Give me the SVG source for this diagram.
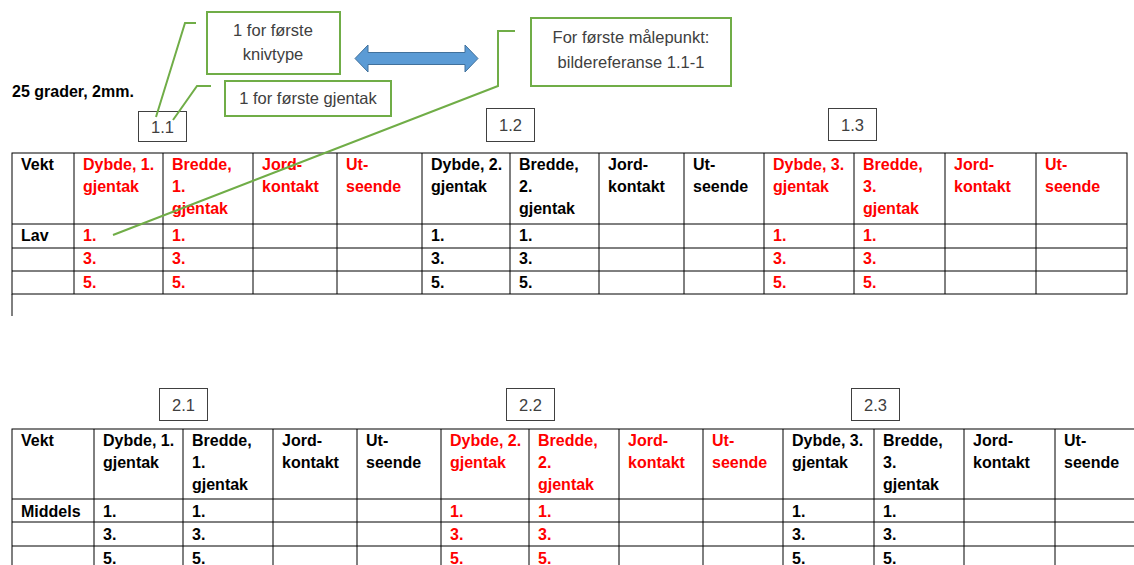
<svg xmlns="http://www.w3.org/2000/svg" width="1134" height="565" viewBox="0 0 1134 565">
<style>
  .grid { stroke: #000; stroke-width: 1; fill: none; }
  .t { font-family: "Liberation Sans", Arial, sans-serif; font-size: 16px; font-weight: bold; fill: #000; }
  .r { fill: #FF0000; }
  .cal { fill: #fff; stroke: #70AD47; stroke-width: 2; }
  .cline { fill: none; stroke: #70AD47; stroke-width: 2; }
  .ct { font-family: "Liberation Sans", Arial, sans-serif; font-size: 16.5px; fill: #404040; text-anchor: middle; }
  .lbl { fill: #fff; stroke: #404040; stroke-width: 1; }
  .lt { font-family: "Liberation Sans", Arial, sans-serif; font-size: 16.5px; fill: #404040; text-anchor: middle; }
</style>
<rect width="1134" height="565" fill="#fff"/>

<text id="title" class="t" x="12" y="97">25 grader, 2mm.</text>

<!-- Table 1 -->
<g id="table1">
  <g class="grid">
    <rect x="12" y="153" width="1115" height="141"/>
    <line x1="12" y1="224" x2="1127" y2="224"/>
    <line x1="12" y1="248" x2="1127" y2="248"/>
    <line x1="12" y1="271" x2="1127" y2="271"/>
    <line x1="74" y1="153" x2="74" y2="294"/>
    <line x1="163" y1="153" x2="163" y2="294"/>
    <line x1="253" y1="153" x2="253" y2="294"/>
    <line x1="337" y1="153" x2="337" y2="294"/>
    <line x1="422" y1="153" x2="422" y2="294"/>
    <line x1="510" y1="153" x2="510" y2="294"/>
    <line x1="599" y1="153" x2="599" y2="294"/>
    <line x1="684" y1="153" x2="684" y2="294"/>
    <line x1="764" y1="153" x2="764" y2="294"/>
    <line x1="854" y1="153" x2="854" y2="294"/>
    <line x1="945" y1="153" x2="945" y2="294"/>
    <line x1="1036" y1="153" x2="1036" y2="294"/>
    <line x1="12" y1="294" x2="12" y2="316"/>
  </g>
  <text class="t" x="21" y="170">Vekt</text>
  <text class="t r" x="83" y="170">Dybde, 1.</text><text class="t r" x="83" y="192">gjentak</text>
  <text class="t r" x="172" y="170">Bredde,</text><text class="t r" x="172" y="192">1.</text><text class="t r" x="172" y="214">gjentak</text>
  <text class="t r" x="262" y="170">Jord-</text><text class="t r" x="262" y="192">kontakt</text>
  <text class="t r" x="346" y="170">Ut-</text><text class="t r" x="346" y="192">seende</text>
  <text class="t" x="431" y="170">Dybde, 2.</text><text class="t" x="431" y="192">gjentak</text>
  <text class="t" x="519" y="170">Bredde,</text><text class="t" x="519" y="192">2.</text><text class="t" x="519" y="214">gjentak</text>
  <text class="t" x="608" y="170">Jord-</text><text class="t" x="608" y="192">kontakt</text>
  <text class="t" x="693" y="170">Ut-</text><text class="t" x="693" y="192">seende</text>
  <text class="t r" x="773" y="170">Dybde, 3.</text><text class="t r" x="773" y="192">gjentak</text>
  <text class="t r" x="863" y="170">Bredde,</text><text class="t r" x="863" y="192">3.</text><text class="t r" x="863" y="214">gjentak</text>
  <text class="t r" x="954" y="170">Jord-</text><text class="t r" x="954" y="192">kontakt</text>
  <text class="t r" x="1045" y="170">Ut-</text><text class="t r" x="1045" y="192">seende</text>

  <text class="t" x="21" y="241">Lav</text>
  <text class="t r" x="83" y="241">1.</text><text class="t r" x="83" y="264">3.</text><text class="t r" x="83" y="288">5.</text>
  <text class="t r" x="172" y="241">1.</text><text class="t r" x="172" y="264">3.</text><text class="t r" x="172" y="288">5.</text>
  <text class="t" x="431" y="241">1.</text><text class="t" x="431" y="264">3.</text><text class="t" x="431" y="288">5.</text>
  <text class="t" x="519" y="241">1.</text><text class="t" x="519" y="264">3.</text><text class="t" x="519" y="288">5.</text>
  <text class="t r" x="773" y="241">1.</text><text class="t r" x="773" y="264">3.</text><text class="t r" x="773" y="288">5.</text>
  <text class="t r" x="863" y="241">1.</text><text class="t r" x="863" y="264">3.</text><text class="t r" x="863" y="288">5.</text>
</g>

<!-- Table 2 -->
<g id="table2">
  <g class="grid">
    <rect x="12" y="429" width="1130" height="145"/>
    <line x1="12" y1="499" x2="1142" y2="499"/>
    <line x1="12" y1="522" x2="1142" y2="522"/>
    <line x1="12" y1="546" x2="1142" y2="546"/>
    <line x1="94" y1="429" x2="94" y2="574"/>
    <line x1="183" y1="429" x2="183" y2="574"/>
    <line x1="273" y1="429" x2="273" y2="574"/>
    <line x1="357" y1="429" x2="357" y2="574"/>
    <line x1="441" y1="429" x2="441" y2="574"/>
    <line x1="529" y1="429" x2="529" y2="574"/>
    <line x1="619" y1="429" x2="619" y2="574"/>
    <line x1="703" y1="429" x2="703" y2="574"/>
    <line x1="783" y1="429" x2="783" y2="574"/>
    <line x1="874" y1="429" x2="874" y2="574"/>
    <line x1="964" y1="429" x2="964" y2="574"/>
    <line x1="1055" y1="429" x2="1055" y2="574"/>
  </g>
  <text class="t" x="21" y="446">Vekt</text>
  <text class="t" x="103" y="446">Dybde, 1.</text><text class="t" x="103" y="468">gjentak</text>
  <text class="t" x="192" y="446">Bredde,</text><text class="t" x="192" y="468">1.</text><text class="t" x="192" y="490">gjentak</text>
  <text class="t" x="282" y="446">Jord-</text><text class="t" x="282" y="468">kontakt</text>
  <text class="t" x="366" y="446">Ut-</text><text class="t" x="366" y="468">seende</text>
  <text class="t r" x="450" y="446">Dybde, 2.</text><text class="t r" x="450" y="468">gjentak</text>
  <text class="t r" x="538" y="446">Bredde,</text><text class="t r" x="538" y="468">2.</text><text class="t r" x="538" y="490">gjentak</text>
  <text class="t r" x="628" y="446">Jord-</text><text class="t r" x="628" y="468">kontakt</text>
  <text class="t r" x="712" y="446">Ut-</text><text class="t r" x="712" y="468">seende</text>
  <text class="t" x="792" y="446">Dybde, 3.</text><text class="t" x="792" y="468">gjentak</text>
  <text class="t" x="883" y="446">Bredde,</text><text class="t" x="883" y="468">3.</text><text class="t" x="883" y="490">gjentak</text>
  <text class="t" x="973" y="446">Jord-</text><text class="t" x="973" y="468">kontakt</text>
  <text class="t" x="1064" y="446">Ut-</text><text class="t" x="1064" y="468">seende</text>

  <text class="t" x="21" y="517">Middels</text>
  <text class="t" x="103" y="517">1.</text><text class="t" x="103" y="540">3.</text><text class="t" x="103" y="564">5.</text>
  <text class="t" x="192" y="517">1.</text><text class="t" x="192" y="540">3.</text><text class="t" x="192" y="564">5.</text>
  <text class="t r" x="450" y="517">1.</text><text class="t r" x="450" y="540">3.</text><text class="t r" x="450" y="564">5.</text>
  <text class="t r" x="538" y="517">1.</text><text class="t r" x="538" y="540">3.</text><text class="t r" x="538" y="564">5.</text>
  <text class="t" x="792" y="517">1.</text><text class="t" x="792" y="540">3.</text><text class="t" x="792" y="564">5.</text>
  <text class="t" x="883" y="517">1.</text><text class="t" x="883" y="540">3.</text><text class="t" x="883" y="564">5.</text>
</g>

<!-- Label boxes -->
<g id="lbl11"><rect class="lbl" x="138.5" y="111.5" width="48" height="30"/><text class="lt" x="162.5" y="133">1.1</text></g>
<g id="lbl12"><rect class="lbl" x="486.5" y="108.5" width="48" height="33"/><text class="lt" x="510.5" y="131">1.2</text></g>
<g id="lbl13"><rect class="lbl" x="828.5" y="108.5" width="48" height="32"/><text class="lt" x="852.5" y="131">1.3</text></g>
<g id="lbl21"><rect class="lbl" x="159.5" y="388.5" width="48" height="32"/><text class="lt" x="183.5" y="411">2.1</text></g>
<g id="lbl22"><rect class="lbl" x="506.5" y="388.5" width="48" height="32"/><text class="lt" x="530.5" y="411">2.2</text></g>
<g id="lbl23"><rect class="lbl" x="851.5" y="388.5" width="48" height="32"/><text class="lt" x="875.5" y="411">2.3</text></g>

<!-- Connectors -->
<g id="connectors">
  <polyline class="cline" points="196,23 185,23 156,117"/>
  <polyline class="cline" points="211,86 197,86 173,120"/>
  <polyline class="cline" points="515,31 498,31 498,86 113,235"/>
</g>

<!-- Callouts -->
<g id="callout-knivtype">
  <rect class="cal" x="207" y="12" width="133" height="62"/>
  <text class="ct" x="273" y="36">1 for første</text>
  <text class="ct" x="273" y="60">knivtype</text>
</g>
<g id="callout-gjentak">
  <rect class="cal" x="225" y="81" width="166" height="35"/>
  <text class="ct" x="308" y="104">1 for første gjentak</text>
</g>
<g id="callout-malepunkt">
  <rect class="cal" x="531" y="18" width="200" height="68"/>
  <text class="ct" x="631" y="43">For første målepunkt:</text>
  <text class="ct" x="631" y="68">bildereferanse 1.1-1</text>
</g>

<g id="double-arrow">
  <polygon points="355,58.5 368,45 368,52.5 465,52.5 465,45 478,58.5 465,72 465,64.5 368,64.5 368,72" fill="#5B9BD5" stroke="#41719C" stroke-width="1"/>
</g>
</svg>
